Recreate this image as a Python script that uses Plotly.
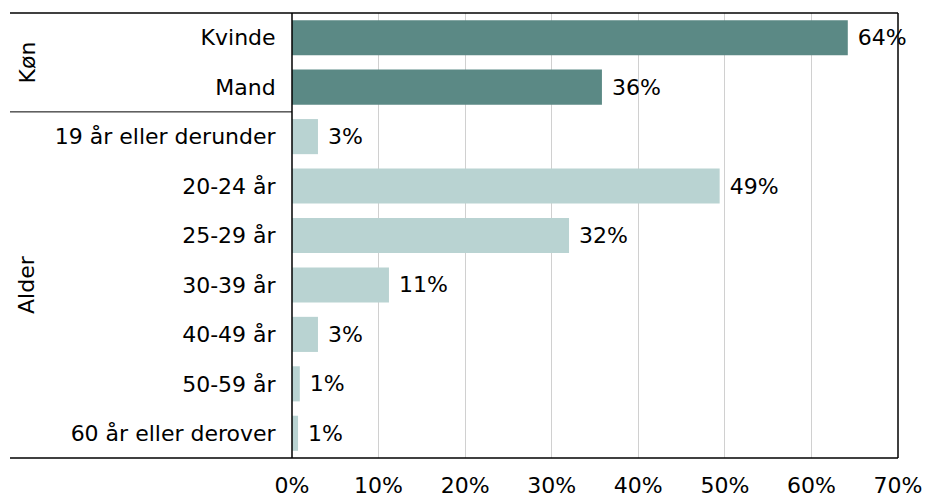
import plotly.graph_objects as go

categories = ["Kvinde", "Mand", "19 år eller derunder", "20-24 år", "25-29 år",
              "30-39 år", "40-49 år", "50-59 år", "60 år eller derover"]
values = [64.2, 35.8, 3.0, 49.4, 32.0, 11.2, 3.0, 0.9, 0.7]
groups = ["Køn", "Køn", "Alder", "Alder", "Alder", "Alder", "Alder", "Alder", "Alder"]
group_colors = {"Køn": "#5B8985", "Alder": "#B9D3D2"}
x_ticks = [0, 10, 20, 30, 40, 50, 60, 70]

FONT = "DejaVu Sans"
FS = 22

fig = go.Figure()
fig.add_trace(go.Bar(
    y=categories, x=values, orientation="h",
    marker=dict(color=[group_colors[g] for g in groups], line=dict(width=0)),
    text=values, texttemplate=" %{x:.0f}%", textposition="outside",
    textfont=dict(family=FONT, size=FS, color="#000000"),
    cliponaxis=False, hoverinfo="skip",
))

L, R, T, B = 292, 28, 13, 39
fig.update_layout(
    width=926, height=497,
    margin=dict(l=L, r=R, t=T, b=B, pad=0, autoexpand=False),
    plot_bgcolor="white", paper_bgcolor="white",
    bargap=0.29, showlegend=False,
    font=dict(family=FONT, size=FS, color="#000000"),
)
fig.update_xaxes(
    range=[0, 70], tickvals=x_ticks, ticktext=[f"{v}%" for v in x_ticks],
    showgrid=True, gridcolor="#D0D0D0", gridwidth=1,
    zeroline=False, showline=False, automargin=False,
    ticks="outside", ticklen=8, tickcolor="rgba(0,0,0,0)",
    tickfont=dict(family=FONT, size=FS, color="#000000"),
    fixedrange=True,
)
fig.update_yaxes(
    categoryorder="array", categoryarray=categories, autorange="reversed",
    showline=False, showgrid=False, zeroline=False, automargin=False,
    ticks="outside", ticklen=11, tickcolor="rgba(0,0,0,0)",
    tickfont=dict(family=FONT, size=FS, color="#000000"),
    fixedrange=True,
)

pw = 926 - L - R
left_ext = (10 - L) / pw
line = dict(color="#000000", width=1.5)
# frame lines
fig.add_shape(type="line", xref="paper", yref="paper", x0=left_ext, x1=1, y0=1, y1=1, line=line)
fig.add_shape(type="line", xref="paper", yref="paper", x0=left_ext, x1=1, y0=0, y1=0, line=line)
fig.add_shape(type="line", xref="paper", yref="paper", x0=0, x1=0, y0=0, y1=1, line=line)
fig.add_shape(type="line", xref="paper", yref="paper", x0=1, x1=1, y0=0, y1=1, line=line)
# group separator
fig.add_shape(type="line", xref="paper", yref="y", x0=left_ext, x1=0, y0=1.5, y1=1.5, line=dict(color="#000000", width=1))

# group labels
gx = (27 - L) / pw
for g in ["Køn", "Alder"]:
    idx = [i for i, gg in enumerate(groups) if gg == g]
    mid = (idx[0] + idx[-1]) / 2
    fig.add_annotation(text=g, xref="paper", yref="y", x=gx, y=mid, showarrow=False,
                       textangle=-90, font=dict(family=FONT, size=FS, color="#000000"),
                       xanchor="center", yanchor="middle")

fig.write_html("out.html",
               config={"displayModeBar": False, "staticPlot": True},
               post_script="document.documentElement.style.margin='0';"
                           "document.body.style.margin='0';"
                           "document.body.style.overflow='hidden';")
